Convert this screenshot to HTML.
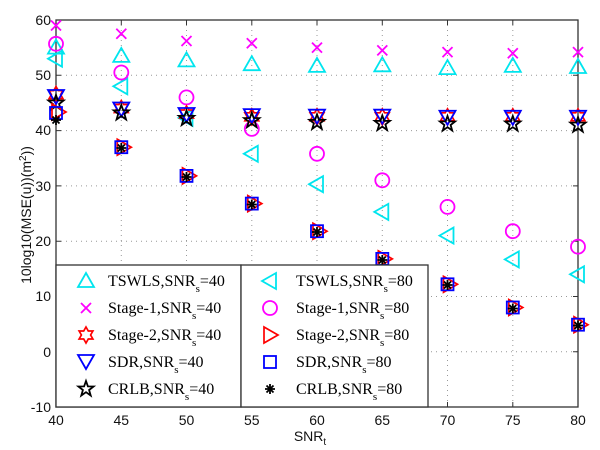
<!DOCTYPE html>
<html><head><meta charset="utf-8"><style>
html,body{margin:0;padding:0;background:#fff;}
svg{display:block;}
.t{font-family:"Liberation Sans",Arial,sans-serif;font-size:14px;fill:#111;}
.l{font-family:"Liberation Serif","Times New Roman",serif;font-size:16px;fill:#000;}
</style></head><body>
<svg width="600" height="450" viewBox="0 0 600 450" xmlns="http://www.w3.org/2000/svg">
<defs>
<g id="tu"><polygon points="0,-8 8,6 -8,6" fill="none" stroke="#00e5ee" stroke-width="1.8"/></g>
<g id="tl"><polygon points="-8,0 6,-8 6,8" fill="none" stroke="#00e5ee" stroke-width="1.8"/></g>
<g id="xm"><path d="M-5,-5L5,5M-5,5L5,-5" stroke="#ff00ff" stroke-width="1.8"/></g>
<g id="ci"><circle r="7" fill="none" stroke="#ff00ff" stroke-width="1.8"/></g>
<g id="hx"><polygon points="0,-8 2.3,-4 6.9,-4 4.6,0 6.9,4 2.3,4 0,8 -2.3,4 -6.9,4 -4.6,0 -6.9,-4 -2.3,-4" fill="none" stroke="#ff0000" stroke-width="1.7"/></g>
<g id="tr"><polygon points="8,0 -6,-8 -6,8" fill="none" stroke="#ff0000" stroke-width="1.7"/></g>
<g id="td"><polygon points="0,8 8,-6 -8,-6" fill="none" stroke="#0000ff" stroke-width="1.8"/></g>
<g id="sq"><rect x="-6" y="-6" width="12" height="12" fill="none" stroke="#0000ff" stroke-width="1.8"/></g>
<g id="st"><polygon points="0,-8 1.9,-2.6 7.6,-2.5 3.1,1 4.7,6.5 0,3.2 -4.7,6.5 -3.1,1 -7.6,-2.5 -1.9,-2.6" fill="none" stroke="#000" stroke-width="1.8"/></g>
<g id="as"><path d="M0,-5V5M-5,0H5M-3.5,-3.5L3.5,3.5M-3.5,3.5L3.5,-3.5" stroke="#000" stroke-width="1.8"/></g>
</defs>
<g stroke="#999" stroke-width="1" stroke-dasharray="1,4">
<path d="M121.3,20V407M186.5,20V407M251.8,20V407M317,20V407M382.3,20V407M447.5,20V407M512.8,20V407"/>
<path d="M56,75.3H578M56,130.6H578M56,185.9H578M56,241.2H578M56,296.5H578M56,351.7H578"/>
</g>
<rect x="56" y="20" width="522" height="387" fill="none" stroke="#333" stroke-width="1.3"/>
<g stroke="#333" stroke-width="1">
<path d="M121.3,407v-5M186.5,407v-5M251.8,407v-5M317,407v-5M382.3,407v-5M447.5,407v-5M512.8,407v-5"/>
<path d="M121.3,20v5M186.5,20v5M251.8,20v5M317,20v5M382.3,20v5M447.5,20v5M512.8,20v5"/>
<path d="M56,75.3h5M56,130.6h5M56,185.9h5M56,241.2h5M56,296.5h5M56,351.7h5"/>
<path d="M578,75.3h-5M578,130.6h-5M578,185.9h-5M578,241.2h-5M578,296.5h-5M578,351.7h-5"/>
</g>
<g class="t" text-anchor="end">
<text x="51" y="25">60</text><text x="51" y="80">50</text><text x="51" y="135">40</text><text x="51" y="191">30</text><text x="51" y="246">20</text><text x="51" y="301">10</text><text x="51" y="357">0</text><text x="51" y="412">-10</text>
</g>
<g class="t" text-anchor="middle">
<text x="56" y="425">40</text><text x="121.3" y="425">45</text><text x="186.5" y="425">50</text><text x="251.8" y="425">55</text><text x="317" y="425">60</text><text x="382.3" y="425">65</text><text x="447.5" y="425">70</text><text x="512.8" y="425">75</text><text x="578" y="425">80</text>
<text x="310" y="441">SNR<tspan font-size="10" dy="4">t</tspan></text>
</g>
<text class="t" transform="translate(31,215) rotate(-90)" text-anchor="middle">10log10(MSE(u))(m<tspan font-size="10" dy="-5">2</tspan><tspan dy="5">))</tspan></text>
<g>
<use href="#tu" x="56" y="47.6"/><use href="#tu" x="121.3" y="55.9"/><use href="#tu" x="186.5" y="60.4"/><use href="#tu" x="251.8" y="64.2"/><use href="#tu" x="317" y="65.9"/><use href="#tu" x="382.3" y="65.3"/><use href="#tu" x="447.5" y="68.1"/><use href="#tu" x="512.8" y="65.9"/><use href="#tu" x="578" y="67"/>
<use href="#xm" x="56" y="25.5"/><use href="#xm" x="121.3" y="33.8"/><use href="#xm" x="186.5" y="41"/><use href="#xm" x="251.8" y="43.2"/><use href="#xm" x="317" y="47.6"/><use href="#xm" x="382.3" y="50.4"/><use href="#xm" x="447.5" y="52.1"/><use href="#xm" x="512.8" y="53.2"/><use href="#xm" x="578" y="52.1"/>
<use href="#tl" x="56" y="58.7"/><use href="#tl" x="121.3" y="86.3"/><use href="#tl" x="186.5" y="117.9"/><use href="#tl" x="251.8" y="153.8"/><use href="#tl" x="317" y="184.2"/><use href="#tl" x="382.3" y="211.9"/><use href="#tl" x="447.5" y="235.6"/><use href="#tl" x="512.8" y="259.4"/><use href="#tl" x="578" y="274.3"/>
<use href="#ci" x="56" y="43.8"/><use href="#ci" x="121.3" y="72.5"/><use href="#ci" x="186.5" y="97.4"/><use href="#ci" x="251.8" y="128.9"/><use href="#ci" x="317" y="153.8"/><use href="#ci" x="382.3" y="180.3"/><use href="#ci" x="447.5" y="206.9"/><use href="#ci" x="512.8" y="231.2"/><use href="#ci" x="578" y="246.7"/>
<use href="#hx" x="56" y="94.6"/><use href="#hx" x="121.3" y="108.5"/><use href="#hx" x="186.5" y="114"/><use href="#hx" x="251.8" y="116.8"/><use href="#hx" x="317" y="116.8"/><use href="#hx" x="382.3" y="116.8"/><use href="#hx" x="447.5" y="116.8"/><use href="#hx" x="512.8" y="116.8"/><use href="#hx" x="578" y="116.8"/>
<use href="#td" x="56" y="96"/><use href="#td" x="121.3" y="108.5"/><use href="#td" x="186.5" y="114"/><use href="#td" x="251.8" y="115.1"/><use href="#td" x="317" y="115.7"/><use href="#td" x="382.3" y="115.7"/><use href="#td" x="447.5" y="116.8"/><use href="#td" x="512.8" y="116.8"/><use href="#td" x="578" y="116.8"/>
<use href="#st" x="56" y="103"/><use href="#st" x="121.3" y="112.9"/><use href="#st" x="186.5" y="118.4"/><use href="#st" x="251.8" y="120.6"/><use href="#st" x="317" y="122.3"/><use href="#st" x="382.3" y="123.4"/><use href="#st" x="447.5" y="124"/><use href="#st" x="512.8" y="124"/><use href="#st" x="578" y="125.1"/>
<use href="#tr" x="58" y="112"/><use href="#tr" x="123.3" y="147.2"/><use href="#tr" x="188.5" y="175.9"/><use href="#tr" x="253.8" y="203.6"/><use href="#tr" x="319" y="231.2"/><use href="#tr" x="384.3" y="258.9"/><use href="#tr" x="449.5" y="284.3"/><use href="#tr" x="514.8" y="307.5"/><use href="#tr" x="580" y="324.7"/>
<use href="#sq" x="56" y="113"/><use href="#sq" x="121.3" y="147.2"/><use href="#sq" x="186.5" y="175.9"/><use href="#sq" x="251.8" y="203.6"/><use href="#sq" x="317" y="231.2"/><use href="#sq" x="382.3" y="258.9"/><use href="#sq" x="447.5" y="284.3"/><use href="#sq" x="512.8" y="307.5"/><use href="#sq" x="578" y="324.7"/>
<use href="#as" x="56" y="120"/><use href="#as" x="121.3" y="148"/><use href="#as" x="186.5" y="177"/><use href="#as" x="251.8" y="204.5"/><use href="#as" x="317" y="232"/><use href="#as" x="382.3" y="260"/><use href="#as" x="447.5" y="285"/><use href="#as" x="512.8" y="308.5"/><use href="#as" x="578" y="325.5"/>
</g>
<rect x="56" y="265" width="185" height="142" fill="#fff" stroke="#333" stroke-width="1.3"/>
<rect x="241" y="265" width="187" height="142" fill="#fff" stroke="#333" stroke-width="1.3"/>
<use href="#tu" x="86" y="281"/><use href="#xm" x="86" y="308"/><use href="#hx" x="86" y="335"/><use href="#td" x="86" y="361"/><use href="#st" x="86" y="389"/>
<use href="#tl" x="270" y="281"/><use href="#ci" x="270" y="308"/><use href="#tr" x="270" y="335"/><use href="#sq" x="270" y="362"/><use href="#as" x="270" y="389"/>
<g class="l">
<text x="108" y="286">TSWLS,SNR<tspan font-size="11" dy="6">s</tspan><tspan dy="-6">=40</tspan></text>
<text x="108" y="313">Stage-1,SNR<tspan font-size="11" dy="6">s</tspan><tspan dy="-6">=40</tspan></text>
<text x="108" y="340">Stage-2,SNR<tspan font-size="11" dy="6">s</tspan><tspan dy="-6">=40</tspan></text>
<text x="108" y="367">SDR,SNR<tspan font-size="11" dy="6">s</tspan><tspan dy="-6">=40</tspan></text>
<text x="108" y="394">CRLB,SNR<tspan font-size="11" dy="6">s</tspan><tspan dy="-6">=40</tspan></text>
<text x="296" y="286">TSWLS,SNR<tspan font-size="11" dy="6">s</tspan><tspan dy="-6">=80</tspan></text>
<text x="296" y="313">Stage-1,SNR<tspan font-size="11" dy="6">s</tspan><tspan dy="-6">=80</tspan></text>
<text x="296" y="340">Stage-2,SNR<tspan font-size="11" dy="6">s</tspan><tspan dy="-6">=80</tspan></text>
<text x="296" y="367">SDR,SNR<tspan font-size="11" dy="6">s</tspan><tspan dy="-6">=80</tspan></text>
<text x="296" y="394">CRLB,SNR<tspan font-size="11" dy="6">s</tspan><tspan dy="-6">=80</tspan></text>
</g>
</svg>
</body></html>
